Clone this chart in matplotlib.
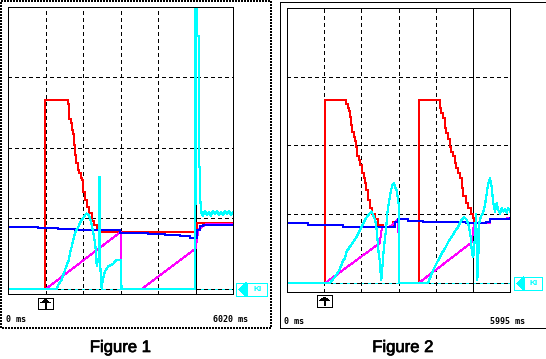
import matplotlib
matplotlib.use("Agg")
from matplotlib import pyplot as plt, patheffects as pe
from matplotlib.patches import Rectangle, Polygon

plt.rcParams["lines.scale_dashes"] = False
plt.rcParams["lines.antialiased"] = False
plt.rcParams["patch.antialiased"] = False

# ---- Figure 1 : time in ms, level in screen divisions ----
f1_span = 6020
f1_cursor = 5017
f1_red_t = [0, 998, 998, 1598, 1614, 1640, 1678, 1705, 1731, 1758, 1801, 1828, 1865, 1908, 1953,
            1972, 2015, 2061, 2106, 2160, 2240, 2309, 2374, 2435, 5017, 5058, 6021]
f1_red_v = [0, 0, 2.68, 2.68, 2.62, 2.41, 2.35, 2.26, 2.20, 2.04, 1.90, 1.79, 1.69, 1.65, 1.57,
            1.55, 1.38, 1.26, 1.16, 1.08, 0.96, 0.91, 0.85, 0.81, 0.81, 0.94, 0.94]
f1_blue_t = [0, 811, 1338, 1793, 2240, 2997, 3444, 3746, 4201, 4603, 4870, 5017, 5058, 5138, 5218, 6021]
f1_blue_v = [0.88, 0.86, 0.85, 0.83, 0.84, 0.80, 0.79, 0.78, 0.77, 0.75, 0.73, 0.72, 0.84, 0.89, 0.91, 0.91]
f1_mag_t = [0, 1009, 3016, 3037, 3578, 4985, 5017, 5092, 5218, 5298, 6021]
f1_mag_v = [0, 0, 0.81, 0, 0, 0.56, 0.57, 0.84, 0.89, 0.92, 0.92]
f1_cyan_t = [0, 1303, 1346, 1437, 1480, 1525, 1571, 1614, 1640, 1678, 1705, 1747, 1793, 1838, 1881,
             1927, 1972, 2015, 2061, 2106, 2149, 2194, 2240, 2283, 2328, 2355, 2374, 2408, 2443,
             2443, 2452, 2452, 2462, 2507, 2534, 2596, 2684, 2818, 2890, 3016, 3037, 5004,
             5004, 5022, 5022, 5040, 5040, 5058, 5066, 5103, 5103, 5119, 5119, 5138, 5138, 5157,
             5178, 5218, 5272, 5325, 5379, 5432, 5486, 5539, 5593, 5646, 5700, 5753, 5807, 5860,
             5914, 5967, 6021]
f1_cyan_v = [0, 0, 0.06, 0.13, 0.20, 0.27, 0.34, 0.39, 0.46, 0.55, 0.60, 0.70, 0.79, 0.84, 0.88,
             0.94, 0.98, 1.01, 1.05, 1.07, 1.05, 1.01, 0.91, 0.79, 0.65, 0.51, 0.33, 0.43, 0.38,
             1.59, 1.59, 0.40, 0.38, 0, 0.13, 0.25, 0.32, 0.36, 0.41, 0.41, 0, 0,
             4.3, 4.3, 1.2, 1.2, 4.3, 4.3, 3.59, 3.59, 2.64, 2.64, 1.73, 1.73, 1.26, 1.21,
             1.08, 1.04, 1.11, 1.05, 1.09, 1.04, 1.11, 1.06, 1.11, 1.05, 1.09, 1.05, 1.11, 1.06,
             1.11, 1.05, 1.09]

# ---- Figure 2 ----
f2_span = 5995
f2_cursor = 4996
f2_red_t = [0, 1029, 1029, 1567, 1594, 1632, 1667, 1693, 1728, 1755, 1793, 1820, 1855, 1890, 1935,
            1970, 2016, 2062, 2089, 2132, 2177, 2223, 2285, 2357, 2446, 2589, 2769, 2858, 2992,
            3019, 3540, 3540, 4078, 4104, 4148, 4193, 4239, 4282, 4328, 4373, 4416, 4462, 4508,
            4551, 4597, 4642, 4696, 4739, 4812, 4873, 4938, 4992, 5027, 5081, 5457, 5457, 5994]
f2_red_v = [0, 0, 2.66, 2.66, 2.60, 2.55, 2.50, 2.42, 2.30, 2.20, 2.13, 2.06, 1.98, 1.84, 1.79,
            1.72, 1.60, 1.52, 1.45, 1.35, 1.21, 1.09, 1.01, 0.93, 0.84, 0.82, 0.82, 0.88, 0.93,
            0, 0, 2.66, 2.66, 2.55, 2.47, 2.40, 2.25, 2.18, 2.10, 1.98, 1.91, 1.84, 1.74,
            1.67, 1.60, 1.52, 1.38, 1.26, 1.16, 1.09, 1.01, 0.94, 0.89, 0.87, 0.87, 0.93, 0.94]
f2_blue_t = [0, 126, 573, 1067, 1513, 2769, 2903, 2992, 3072, 3252, 3656, 4239, 4820, 5349, 5457, 5994]
f2_blue_v = [0.87, 0.87, 0.85, 0.84, 0.82, 0.82, 0.89, 0.93, 0.93, 0.90, 0.89, 0.88, 0.87, 0.88, 0.93, 0.94]
f2_mag_t = [0, 1029, 2492, 2554, 2769, 2992, 3019, 3540, 4965, 5027, 5457, 5457, 5994]
f2_mag_v = [0, 0, 0.58, 0.81, 0.82, 0.93, 0, 0, 0.59, 0.87, 0.87, 0.93, 0.94]
f2_cyan_t = [0, 1156, 1290, 1379, 1425, 1513, 1559, 1605, 1693, 1782, 1874, 1962, 2051, 2124, 2212,
             2277, 2339, 2392, 2427, 2473, 2500, 2527, 2546, 2572, 2607, 2661, 2696, 2750, 2796,
             2841, 2876, 2903, 2949, 2984, 3011, 3019, 3790, 3933, 4024, 4094, 4158, 4247, 4336,
             4427, 4516, 4604, 4696, 4758, 4830, 4892, 4938, 4973, 5008, 5054, 5081, 5100, 5116,
             5143, 5170, 5207, 5261, 5322, 5368, 5411, 5457, 5502, 5546, 5591, 5637, 5680, 5725,
             5771, 5814, 5860, 5905, 5949, 5994]
f2_cyan_v = [0, 0, 0.09, 0.16, 0.21, 0.33, 0.36, 0.46, 0.53, 0.60, 0.67, 0.77, 0.87, 0.94, 1.01,
             1.04, 0.96, 0.87, 0.67, 0.38, 0.33, 0.04, 0.09, 0.29, 0.53, 0.77, 1.01, 1.21, 1.35,
             1.43, 1.45, 1.40, 1.35, 1.21, 1.11, 0, 0, 0.19, 0.29, 0.36, 0.43, 0.50, 0.60,
             0.67, 0.75, 0.82, 0.92, 0.96, 0.92, 0.82, 0.67, 0.43, 0.38, 0.67, 1.01, 0.63, 0.04,
             0.38, 0.87, 0.96, 1.01, 1.13, 1.30, 1.45, 1.52, 1.40, 1.16, 1.04, 1.16, 1.06, 1.01,
             1.09, 1.04, 1.07, 1.02, 1.09, 1.04]

levels = [0, 1, 2, 3]
RED, BLUE, MAG, CYAN = "#ff0000", "#0000ff", "#ff00ff", "#00ffff"
PX = 0.72  # one screen pixel in points at 100 dpi

W, H = 546, 359
fig = plt.figure(figsize=(W / 100, H / 100), dpi=100)
fig.patch.set_facecolor("white")
bg = fig.add_axes([0, 0, 1, 1])
bg.set_xlim(0, W); bg.set_ylim(H, 0); bg.axis("off")


def panel(box, span, ylo, cursor, traces):
    x0, y0, x1, y1 = box
    ax = fig.add_axes([x0 / W, 1 - y1 / H, (x1 - x0) / W, (y1 - y0) / H])
    ax.set_xlim(0, span); ax.set_ylim(ylo, 4.0)
    ax.set_xticks([]); ax.set_yticks([])
    for s in ax.spines.values():
        s.set_linewidth(PX)
    ax.axhline(0, color=CYAN, lw=PX, zorder=1)
    for lv in levels:
        ax.axhline(lv, color="black", lw=PX, ls=(0, (2.2, 2.2)), zorder=1.1)
    for k in range(1, 5):
        ax.axvline(span * k / 6, color="black", lw=PX, ls=(0, (2.2, 2.2)), zorder=1.1)
    ax.axvline(cursor, color="black", lw=PX, zorder=1.2)
    (rt, rv), (mt, mv), (bt, bv), (ct, cv) = traces
    ax.plot(rt, rv, color=RED, lw=1.5 * PX, drawstyle="steps-post", zorder=2)
    ax.plot(mt, mv, color=MAG, lw=PX, zorder=2.1)
    ax.plot(bt, bv, color=BLUE, lw=2 * PX, drawstyle="steps-post", zorder=2.2)
    ax.plot(ct, cv, color=CYAN, lw=1.2 * PX, zorder=2.3)
    return ax


panel((8, 7, 233, 294), f1_span, -0.071, f1_cursor,
      [(f1_red_t, f1_red_v), (f1_mag_t, f1_mag_v), (f1_blue_t, f1_blue_v), (f1_cyan_t, f1_cyan_v)])
panel((287, 8, 510, 292), f2_span, -0.131, f2_cursor,
      [(f2_red_t, f2_red_v), (f2_mag_t, f2_mag_v), (f2_blue_t, f2_blue_v), (f2_cyan_t, f2_cyan_v)])

# outer frames
bg.add_patch(Rectangle((0.5, 0.5), 270, 327.5, fill=False, ec="black", lw=2 * PX, ls=(0, (1, 1))))
bg.add_patch(Rectangle((279.5, 1.5), 266, 326.5, fill=False, ec="black", lw=PX))


def trigger(cx, top):
    bg.add_patch(Rectangle((cx - 7.5, top), 15, 11.5, fill=False, ec="black", lw=PX))
    bg.add_patch(Polygon([(cx, top + 2), (cx - 5, top + 5.5), (cx + 5, top + 5.5)],
                         closed=True, fc="black", ec="none"))
    bg.plot([cx, cx], [top + 5.5, top + 10], color="black", lw=2 * PX)


def ki(x0, y0, w, h, div):
    bg.add_patch(Rectangle((x0, y0), w, h, fill=False, ec=CYAN, lw=PX))
    bg.plot([x0 + div, x0 + div], [y0, y0 + h], color=CYAN, lw=PX)
    bg.add_patch(Polygon([(x0 + 2.5, y0 + h / 2), (x0 + div, y0 - 0.5), (x0 + div, y0 + h + 0.5)],
                         closed=True, fc=CYAN, ec="none"))
    bg.text(x0 + div + (w - div) / 2 + 0.5, y0 + h / 2, "KI", color=CYAN, fontsize=6,
            fontweight="bold", ha="center", va="center", family="Liberation Sans")


trigger(45.5, 297.5)
trigger(324.5, 295)
ki(236, 283, 31, 13, 10.5)
ki(514, 277, 28, 13, 9.5)

small = dict(fontsize=6, family="DejaVu Sans Mono", fontweight="bold", va="center", ha="left",
             color="black")
bg.text(6.5, 319.5, "0 ms", **small)
bg.text(213, 320, "6020 ms", **small)
bg.text(284.5, 321, "0 ms", **small)
bg.text(489.5, 321, "5995 ms", **small)

big = dict(fontsize=12, family="Liberation Sans", ha="center", va="baseline", color="black",
           path_effects=[pe.withStroke(linewidth=0.5, foreground="black")])
bg.text(120.5, 352, "Figure 1", **big)
bg.text(403, 352, "Figure 2", **big)

fig.savefig("out.png", dpi=100)
